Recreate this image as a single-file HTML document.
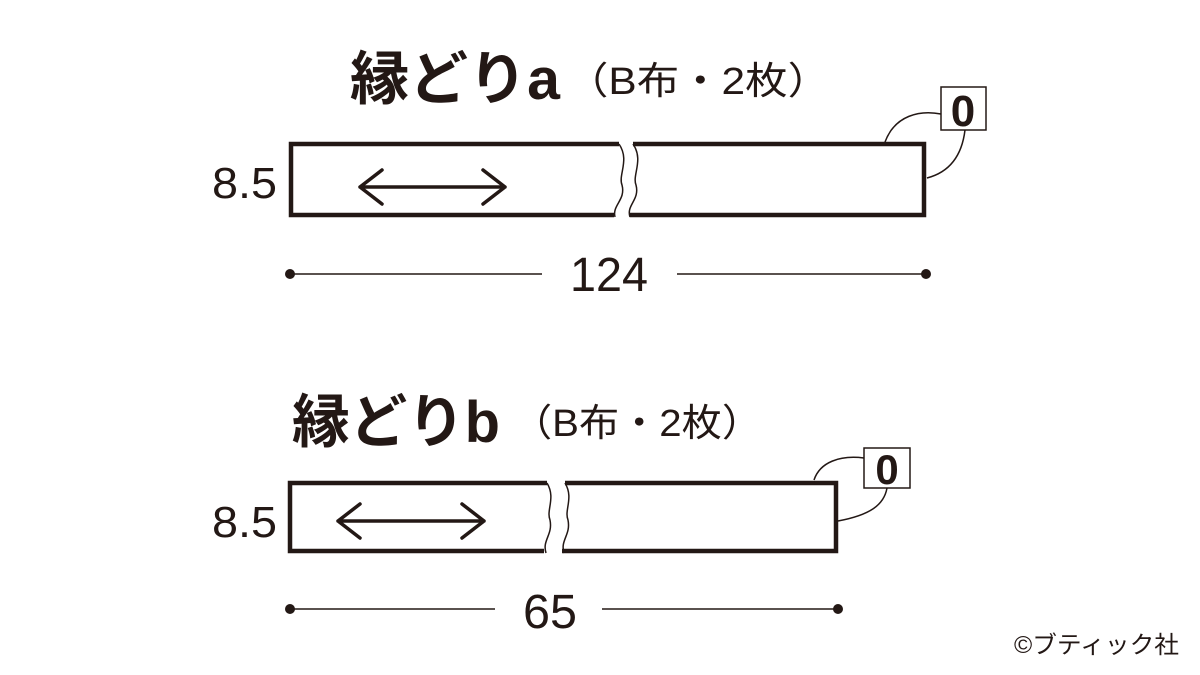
<!DOCTYPE html>
<html><head><meta charset="utf-8"><style>
html,body{margin:0;padding:0;background:#fff;width:1200px;height:675px;overflow:hidden}
svg{display:block}
text{font-family:"Liberation Sans","Noto Sans CJK JP",sans-serif;fill:#231815}
</style></head><body>
<svg width="1200" height="675" viewBox="0 0 1200 675" xmlns="http://www.w3.org/2000/svg">
<g stroke="#231815" fill="none">
<path d="M619 144 H291 V215 H614" stroke-width="4.5"/>
<path d="M633 144 H924 V215 H630" stroke-width="4.5"/>
<path d="M619 144 C630 160,618 175,622 185 C626 200,612 205,615 217" stroke-width="1.5"/>
<path d="M633 144 C644 160,632 175,636 185 C640 200,626 205,630 217" stroke-width="1.5"/>
<path d="M360 187 H505 M382 170 L360 187 L382 204 M483 170 L505 187 L483 204" stroke-width="3.5" stroke-linecap="round" stroke-linejoin="round"/>
<rect x="941" y="87" width="45" height="43" stroke-width="1.5"/>
<path d="M885 142 C895 115,920 110,941 114" stroke-width="1.5"/>
<path d="M965 130 C962 155,950 172,927 178" stroke-width="1.5"/>
<path d="M290 274 H542 M677 274 H926" stroke-width="1.5"/>
<path d="M547 483 H290 V551 H544" stroke-width="4.5"/>
<path d="M565 483 H836 V551 H562" stroke-width="4.5"/>
<path d="M547 483 C556 498,546 510,550 520 C553 535,542 540,546 553" stroke-width="1.5"/>
<path d="M565 483 C574 498,564 510,568 520 C571 535,560 540,564 553" stroke-width="1.5"/>
<path d="M338 521 H484 M360 504 L338 521 L360 538 M462 504 L484 521 L462 538" stroke-width="3.5" stroke-linecap="round" stroke-linejoin="round"/>
<rect x="864" y="448" width="46" height="40" stroke-width="1.5"/>
<path d="M814 480 C820 462,840 455,864 458" stroke-width="1.5"/>
<path d="M887 488 C884 505,870 515,838 521" stroke-width="1.5"/>
<path d="M290 609 H495 M602 609 H838" stroke-width="1.5"/>
</g>
<g fill="#231815">
<circle cx="290" cy="274" r="5"/><circle cx="926" cy="274" r="5"/>
<circle cx="290" cy="609" r="5"/><circle cx="838" cy="609" r="5"/>
</g>
<text x="350" y="99" font-size="58" font-weight="bold" textLength="210" lengthAdjust="spacingAndGlyphs">縁どりa</text>
<text x="566" y="94" font-size="38" textLength="264" lengthAdjust="spacingAndGlyphs">（B布・2枚）</text>
<text x="292" y="442" font-size="58" font-weight="bold" textLength="208" lengthAdjust="spacingAndGlyphs">縁どりb</text>
<text x="512" y="436" font-size="38" textLength="250" lengthAdjust="spacingAndGlyphs">（B布・2枚）</text>
<text x="963" y="126" font-size="44" font-weight="bold" text-anchor="middle">0</text>
<text x="887" y="484" font-size="42" font-weight="bold" text-anchor="middle">0</text>
<text x="212" y="198" font-size="44" textLength="65" lengthAdjust="spacingAndGlyphs">8.5</text>
<text x="212" y="537" font-size="44" textLength="65" lengthAdjust="spacingAndGlyphs">8.5</text>
<text x="570" y="291" font-size="48" textLength="78" lengthAdjust="spacingAndGlyphs">124</text>
<text x="523" y="628" font-size="48" textLength="54" lengthAdjust="spacingAndGlyphs">65</text>
<text x="1014" y="653" font-size="24" textLength="165" lengthAdjust="spacingAndGlyphs">©ブティック社</text>
</svg>
</body></html>
